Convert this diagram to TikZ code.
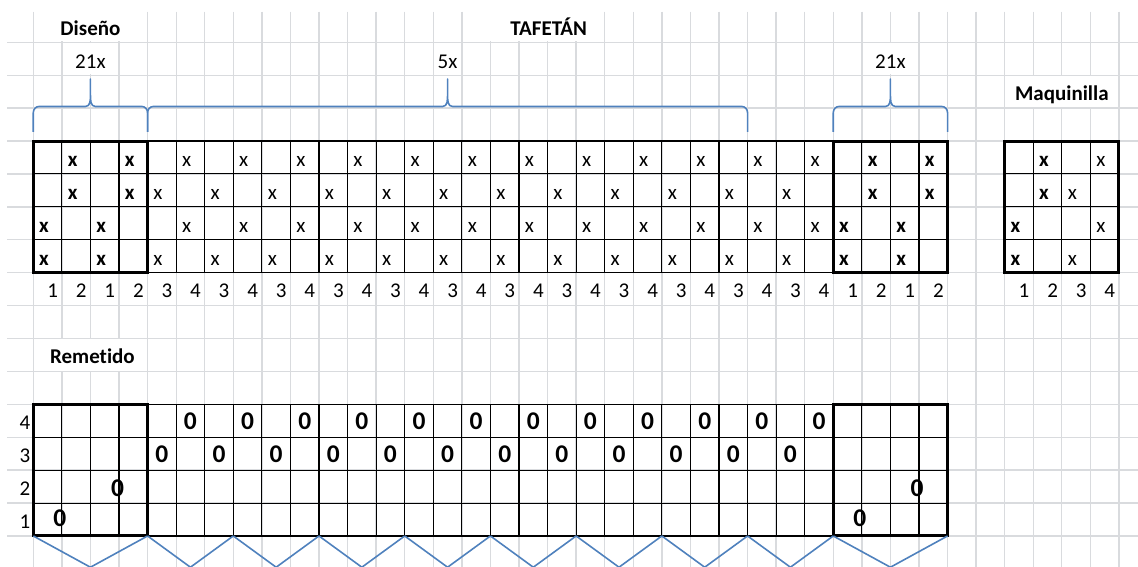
\documentclass[tikz,border=0pt]{standalone}
\usepackage{fontspec}
\setmainfont{Carlito}[Ligatures=NoCommon]
\definecolor{gridgray}{RGB}{217,219,222}
\definecolor{braceblue}{RGB}{79,129,189}
\tikzset{
  gridl/.style={draw=gridgray, line width=1.3pt},
  blk/.style={draw=black, line width=1.1pt},
  boxl/.style={draw=black, line width=3pt},
  bluel/.style={draw=braceblue, line width=1.6pt, line join=round},
  mask/.style={fill=white, draw=none},
  ttl/.style={font=\fontsize{21}{25}\selectfont\bfseries, inner sep=0pt, anchor=base},
  rep/.style={font=\fontsize{21}{25}\selectfont, inner sep=0pt, anchor=base},
  num/.style={font=\fontsize{21}{25}\selectfont, inner sep=0pt, anchor=base east},
  xb/.style={font=\fontsize{21}{25}\selectfont\bfseries, inner sep=0pt, anchor=base west},
  xr/.style={font=\fontsize{21}{25}\selectfont, inner sep=0pt, anchor=base west},
  zero/.style={font=\fontsize{25.5}{30}\selectfont\bfseries, inner sep=0pt, anchor=base},
}
\newcommand\wbrace[3]{\draw[bluel] (#1,3.72) -- (#1,3.14) to[out=90,in=180] ({#1+0.2},2.95) -- ({#2-0.17},2.95) to[out=0,in=-90] (#2,2.6) -- (#2,2.115) -- (#2,2.6) to[out=-90,in=180] ({#2+0.17},2.95) -- ({#3-0.2},2.95) to[out=0,in=90] (#3,3.14) -- (#3,3.72);}
\begin{document}
\begin{tikzpicture}[x=28.57pt, y=-32.91pt]
\useasboundingbox (-1.1655,-0.2856) rectangle (38.666,16.943);
\clip (-1.1655,-0.2856) rectangle (38.666,16.943);
% spreadsheet grid
\foreach \r in {1,...,16} \draw[gridl] (-0.92,\r) -- (38.7,\r);
\foreach \k in {0,...,38} \draw[gridl] (\k,0.07) -- (\k,17);
% merged cells (grid lines hidden)
\fill[mask] (0.03,0) rectangle (3.97,0.975);
\fill[mask] (15.03,0) rectangle (19.97,0.975);
\fill[mask] (1.03,1.025) rectangle (2.97,1.975);
\fill[mask] (29.03,1.025) rectangle (30.97,1.975);
\fill[mask] (34.03,2.025) rectangle (37.97,2.975);
\fill[mask] (0.03,10.025) rectangle (3.97,10.975);
% titles
\node[ttl] (diseno) at (2,0.78) {Diseño};
\node[ttl] (tafetan) at (18.04,0.78) {TAFETÁN};
\node[rep] (rep21a) at (2,1.8) {21x};
\node[rep] (rep5) at (14.5,1.8) {5x};
\node[rep] (rep21b) at (30,1.8) {21x};
\node[ttl] (maq) at (36,2.76) {Maquinilla};
\node[ttl] (remetido) at (2.07,10.76) {Remetido};
% design marks
\foreach \o/\s in {0/a,28/b} {
  \foreach \r/\c in {4/1,4/3,5/1,5/3,6/0,6/2,7/0,7/2}
    \node[xb] (x\s-\r-\c) at ({\o+\c+0.2},\r+0.77) {x};
}
\foreach \r in {4,6} \foreach \c in {5,7,...,27} \node[xr] (xm-\r-\c) at (\c+0.2,\r+0.77) {x};
\foreach \r in {5,7} \foreach \c in {4,6,...,26} \node[xr] (xm-\r-\c) at (\c+0.2,\r+0.77) {x};
\foreach \r/\c in {4/35,5/35,6/34,7/34} \node[xb] (xq-\r-\c) at (\c+0.2,\r+0.77) {x};
\foreach \r/\c in {4/37,5/36,6/37,7/36} \node[xr] (xq-\r-\c) at (\c+0.2,\r+0.77) {x};
% numbers
\foreach \c/\t in {0/1,1/2,2/1,3/2,28/1,29/2,30/1,31/2,34/1,35/2,36/3,37/4} \node[num] (n-\c) at (\c+0.87,8.76) {\t};
\foreach \c in {4,6,...,26} \node[num] (n-\c) at (\c+0.87,8.76) {3};
\foreach \c in {5,7,...,27} \node[num] (n-\c) at (\c+0.87,8.76) {4};
\foreach \r/\t in {12/4,13/3,14/2,15/1} \node[num] (rl-\t) at (-0.1,\r+0.78) {\t};
% remetido marks
\foreach \c in {5,7,...,27} \node[zero] (o-12-\c) at (\c+0.5,12.78) {0};
\foreach \c in {4,6,...,26} \node[zero] (o-13-\c) at (\c+0.5,13.78) {0};
\node[zero] (o-a2) at (2.95,14.8) {0};
\node[zero] (o-a1) at (0.93,15.72) {0};
\node[zero] (o-b2) at (30.93,14.8) {0};
\node[zero] (o-b1) at (28.93,15.72) {0};
% black cell borders
\foreach \k in {0,...,32} \draw[blk] (\k,4) -- (\k,8);
\foreach \r in {4,...,8} \draw[blk] (0,\r) -- (32,\r);
\foreach \k in {34,...,38} \draw[blk] (\k,4) -- (\k,8);
\foreach \r in {4,...,8} \draw[blk] (34,\r) -- (38,\r);
\foreach \k in {0,...,32} \draw[blk] (\k,12) -- (\k,16);
\foreach \r in {12,...,16} \draw[blk] (0,\r) -- (32,\r);
\draw[boxl] (0,4) rectangle (4,8);
\draw[boxl] (28,4) rectangle (32,8);
\draw[boxl] (34,4) rectangle (38,8);
\draw[boxl] (0,12) rectangle (4,16);
\draw[boxl] (28,12) rectangle (32,16);
% braces
\wbrace{0}{2}{4}
\wbrace{4}{14.5}{25}
\wbrace{28}{30}{32}
% zigzag
\draw[bluel] (0,16) -- (2,16.95) -- (4,16);
\foreach \i in {0,...,7} \draw[bluel] ({4+3*\i},16) -- ({5.5+3*\i},16.95) -- ({7+3*\i},16);
\draw[bluel] (28,16) -- (30,16.95) -- (32,16);
\end{tikzpicture}
\end{document}
